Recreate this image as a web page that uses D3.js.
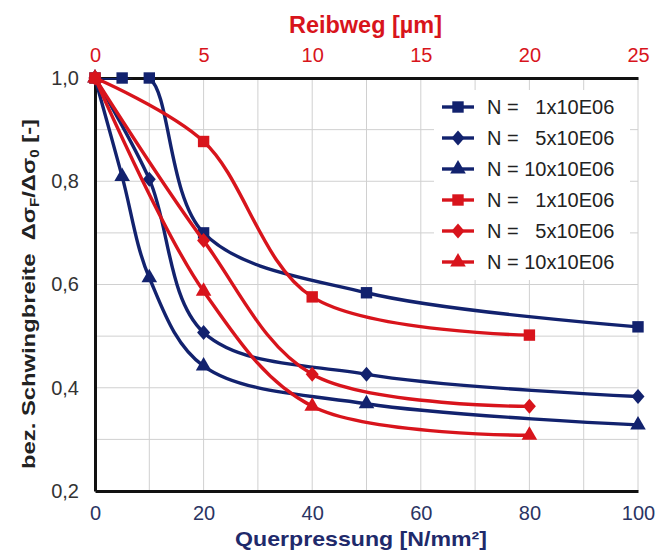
<!DOCTYPE html>
<html>
<head>
<meta charset="utf-8">
<script src="https://cdn.jsdelivr.net/npm/d3@7"></script>
<style>
  body { margin: 0; background: #fff; }
  text { font-family: "Liberation Sans", Arial, sans-serif; }
</style>
</head>
<body>
<div id="chart"></div>
<script>
// Querpressung [N/mm²] (bottom axis) - blue series
const pressBlue = [0, 5, 10, 20, 50, 100];
const blueSquare = [1.0, 1.0, 1.0, 0.70, 0.584, 0.518];
const pressBlueD = [0, 10, 20, 50, 100];
const blueDiamond = [1.0, 0.804, 0.507, 0.426, 0.383];
const blueTriangle = [1.0, 0.809, 0.613, 0.442, 0.369, 0.328];

// Reibweg [µm] (top axis) - red series
const slipRed = [0, 5, 10, 20];
const redSquare = [1.0, 0.877, 0.576, 0.502];
const redDiamond = [1.0, 0.685, 0.426, 0.364];
const redTriangle = [1.0, 0.587, 0.364, 0.308];

const legendLabels = ["N =   1x10E06", "N =   5x10E06", "N = 10x10E06",
                      "N =   1x10E06", "N =   5x10E06", "N = 10x10E06"];

const yTicks = [0.2, 0.4, 0.6, 0.8, 1.0];
const xTicks = [0, 20, 40, 60, 80, 100];
const topTicks = [0, 5, 10, 15, 20, 25];

const blue = "#12226e", red = "#d8141c";

const width = 656, height = 552;
const margin = {top: 78, right: 18, bottom: 61, left: 95};
const iw = 638 - margin.left, ih = 491 - margin.top;

const svg = d3.select("#chart").append("svg")
    .attr("width", width).attr("height", height);
const g = svg.append("g").attr("transform", `translate(${margin.left},${margin.top})`);

const x = d3.scaleLinear().domain([0, 100]).range([0, iw]);
const xTop = d3.scaleLinear().domain([0, 25]).range([0, iw]);
const y = d3.scaleLinear().domain([0.2, 1.0]).range([ih, 0]);

// grid
g.append("g").selectAll("line").data(d3.range(10, 101, 10)).join("line")
    .attr("x1", d => x(d)).attr("x2", d => x(d)).attr("y1", 0).attr("y2", ih)
    .attr("stroke", "#d0d0d0").attr("stroke-width", 1);
g.append("g").selectAll("line").data(d3.range(0.3, 1.0, 0.1)).join("line")
    .attr("x1", 0).attr("x2", iw).attr("y1", d => y(d)).attr("y2", d => y(d))
    .attr("stroke", "#d0d0d0").attr("stroke-width", 1);

// legend background
const lx = 347, ly = 14;
g.append("rect").attr("x", lx - 8).attr("y", ly - 2).attr("width", 196).attr("height", 190)
    .attr("fill", "#fff");

// axes
const xAxis = g.append("g").attr("transform", `translate(0,${ih})`)
    .call(d3.axisBottom(x).tickValues(xTicks).tickSize(0).tickPadding(15));
const topAxis = g.append("g")
    .call(d3.axisTop(xTop).tickValues(topTicks).tickSize(0).tickPadding(16));
const yAxis = g.append("g")
    .call(d3.axisLeft(y).tickValues(yTicks).tickSize(0).tickPadding(16)
        .tickFormat(d => d3.format(".1f")(d).replace(".", ",")));
[xAxis, topAxis, yAxis].forEach(a => {
    a.select(".domain").attr("stroke", "#111").attr("stroke-width", 3);
    a.selectAll("text").style("font-size", "20px");
});
xAxis.selectAll("text").attr("fill", "#2a3463");
topAxis.selectAll("text").attr("fill", red);
yAxis.selectAll("text").attr("fill", "#333");

// series
const series = [
    {xs: pressBlue, ys: blueSquare, sx: x, color: blue, sym: d3.symbolSquare},
    {xs: pressBlueD, ys: blueDiamond, sx: x, color: blue, sym: "diamond"},
    {xs: pressBlue, ys: blueTriangle, sx: x, color: blue, sym: d3.symbolTriangle},
    {xs: slipRed, ys: redSquare, sx: xTop, color: red, sym: d3.symbolSquare},
    {xs: slipRed, ys: redDiamond, sx: xTop, color: red, sym: "diamond"},
    {xs: slipRed, ys: redTriangle, sx: xTop, color: red, sym: d3.symbolTriangle}
];

const symPath = s => s === "diamond"
    ? "M0,-7.5L6.5,0L0,7.5L-6.5,0Z"
    : d3.symbol().type(s).size(s === d3.symbolTriangle ? 105 : 130)();

svg.append("clipPath").attr("id", "clip").append("rect")
    .attr("x", 0).attr("y", 0).attr("width", iw + 4).attr("height", ih);

series.forEach(s => {
    const pts = s.xs.map((v, i) => [s.sx(v), y(s.ys[i])]);
    g.append("path").datum(pts)
        .attr("clip-path", "url(#clip)")
        .attr("fill", "none").attr("stroke", s.color).attr("stroke-width", 3.4)
        .attr("d", d3.line().curve(d3.curveCatmullRom.alpha(0.5)));
    g.append("g").selectAll("path").data(pts).join("path")
        .attr("transform", d => `translate(${d[0]},${d[1]})`)
        .attr("d", symPath(s.sym)).attr("fill", s.color);
});

// legend
series.forEach((s, i) => {
    const yy = ly + 15 + i * 31;
    g.append("line").attr("x1", lx).attr("x2", lx + 32).attr("y1", yy).attr("y2", yy)
        .attr("stroke", s.color).attr("stroke-width", 3.4);
    g.append("path").attr("transform", `translate(${lx + 16},${yy})`)
        .attr("d", symPath(s.sym)).attr("fill", s.color);
    g.append("text").attr("x", lx + 45).attr("y", yy + 7)
        .attr("fill", "#222").style("font-size", "20px")
        .attr("xml:space", "preserve").text(legendLabels[i]);
});

// titles
svg.append("text").attr("x", 361).attr("y", 546)
    .attr("text-anchor", "middle").attr("fill", "#1f2a6b")
    .style("font-size", "21px").style("font-weight", "bold")
    .attr("textLength", 252).attr("lengthAdjust", "spacingAndGlyphs")
    .text("Querpressung [N/mm²]");
svg.append("text").attr("x", margin.left + iw / 2 - 1).attr("y", 33)
    .attr("text-anchor", "middle").attr("fill", red)
    .style("font-size", "23px").style("font-weight", "bold")
    .attr("textLength", 153).attr("lengthAdjust", "spacingAndGlyphs")
    .text("Reibweg [µm]");
const yt = svg.append("text").attr("transform", "translate(35,294) rotate(-90)")
    .attr("text-anchor", "middle").attr("fill", "#222")
    .style("font-size", "19px").style("font-weight", "bold")
    .attr("textLength", 350).attr("lengthAdjust", "spacingAndGlyphs")
    .attr("xml:space", "preserve");
yt.append("tspan").text("bez. Schwingbreite  Δσ");
yt.append("tspan").attr("dy", 4).style("font-size", "12px").text("F");
yt.append("tspan").attr("dy", -4).text("/Δσ");
yt.append("tspan").attr("dy", 4).style("font-size", "12px").text("0");
yt.append("tspan").attr("dy", -4).text(" [-]");
</script>
</body>
</html>
